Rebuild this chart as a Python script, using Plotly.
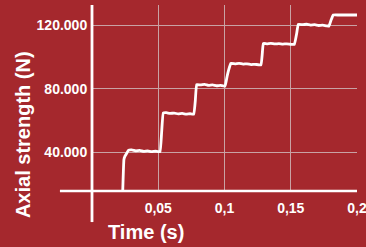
import plotly.graph_objects as go

# ---- data ----
time_s = [0.0232, 0.0241, 0.0249, 0.0262, 0.0274, 0.0300, 0.0330, 0.0360, 0.0390, 0.0420, 0.0450, 0.0480, 0.0513,
          0.0525, 0.0538, 0.0560, 0.0590, 0.0620, 0.0650, 0.0680, 0.0710, 0.0740, 0.0768,
          0.0780, 0.0790, 0.0820, 0.0850, 0.0880, 0.0910, 0.0940, 0.0970, 0.1004,
          0.1020, 0.1030, 0.1047, 0.1080, 0.1110, 0.1140, 0.1170, 0.1200, 0.1230, 0.1275,
          0.1285, 0.1293, 0.1320, 0.1350, 0.1380, 0.1410, 0.1440, 0.1470, 0.1500, 0.1527,
          0.1545, 0.1557, 0.1590, 0.1620, 0.1650, 0.1680, 0.1710, 0.1740, 0.1770, 0.1789,
          0.1805, 0.1821, 0.1860, 0.1900, 0.1950, 0.2000]
force_n = [16000, 35600, 37700, 39500, 41400, 41700, 41100, 41300, 40700, 41000, 40600, 40800, 40500,
           52000, 64900, 65100, 64600, 64800, 64300, 64600, 64200, 64400, 64200,
           73000, 82800, 82500, 82900, 82300, 82600, 82000, 82200, 81800,
           88000, 91500, 96000, 95800, 96100, 95600, 95800, 95300, 95500, 95100,
           102000, 108600, 108400, 108700, 108300, 108500, 108200, 108400, 108100, 108000,
           115000, 120600, 120400, 120700, 120200, 120400, 119900, 120100, 119700, 119600,
           123500, 126500, 126500, 126500, 126500, 126500]

x_tick_vals = [0.05, 0.1, 0.15, 0.2]
x_tick_text = ["0,05", "0,1", "0,15", "0,2"]
y_tick_vals = [40000, 80000, 120000]
y_tick_text = ["40.000", "80.000", "120.000"]

BG = "#A5282D"
GRID = "#C9A2A4"
TICKFONT = dict(family="Liberation Sans Narrow, Arial Narrow, Liberation Sans, Arial", size=14, color="white", weight="bold")
TITLEFONT = dict(family="Liberation Sans, Arial, sans-serif", size=20, color="white", weight="bold")

fig = go.Figure()
fig.add_trace(go.Scatter(x=time_s, y=force_n, mode="lines",
                         line=dict(color="white", width=2.8, shape="spline", smoothing=0.3),
                         hoverinfo="skip", showlegend=False, cliponaxis=False))

fig.update_layout(
    width=366, height=247,
    margin=dict(l=92, r=9, t=5, b=56, autoexpand=False),
    paper_bgcolor=BG, plot_bgcolor=BG,
    showlegend=False,
    xaxis=dict(range=[0, 0.2], tickvals=x_tick_vals, ticktext=x_tick_text,
               showgrid=True, gridcolor=GRID, gridwidth=1, zeroline=False, showline=False,
               ticks="outside", ticklen=4, tickcolor="rgba(0,0,0,0)", automargin=False,
               ticklabeloverflow="allow", tickfont=TICKFONT),
    yaxis=dict(range=[15800, 132800], tickvals=y_tick_vals, ticktext=y_tick_text,
               showgrid=True, gridcolor=GRID, gridwidth=1, zeroline=False, showline=False,
               ticks="outside", ticklen=1, tickcolor="rgba(0,0,0,0)", automargin=False,
               ticklabeloverflow="allow", tickfont=TICKFONT),
    shapes=[
        dict(type="line", xref="paper", yref="paper", x0=-0.121, x1=1.0, y0=0, y1=0,
             line=dict(color="white", width=2.5), layer="above"),
        dict(type="line", xref="paper", yref="paper", x0=0, x1=0, y0=-0.167, y1=1.0,
             line=dict(color="white", width=2.8), layer="above"),
    ],
    annotations=[
        dict(text="Axial strength (N)", xref="paper", yref="paper", x=-0.258, y=0.304,
             textangle=-90, showarrow=False, xanchor="center", yanchor="middle", font=TITLEFONT),
        dict(text="Time (s)", xref="paper", yref="paper", x=0.202, y=-0.22,
             showarrow=False, xanchor="center", yanchor="middle", font=TITLEFONT),
    ],
)

fig.write_html("out.html", config={"displayModeBar": False},
               post_script="document.body.style.margin='0';document.body.style.overflow='hidden';")
